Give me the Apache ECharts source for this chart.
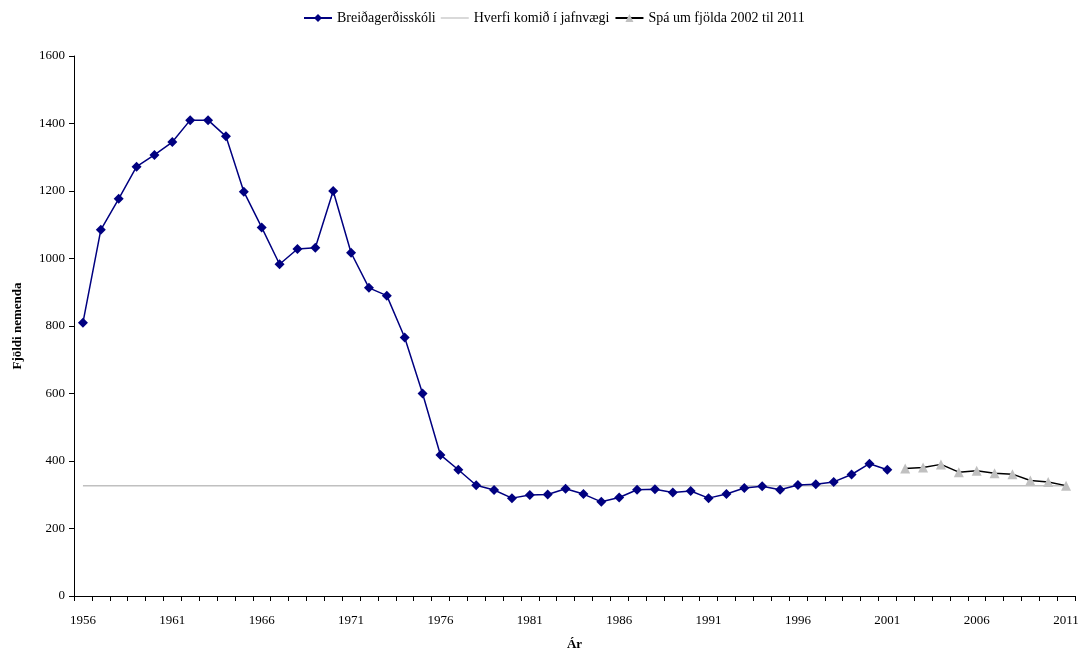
<!DOCTYPE html>
<html><head><meta charset="utf-8">
<script src="https://cdn.jsdelivr.net/npm/echarts@6/dist/echarts.min.js"></script>
<style>html,body{margin:0;padding:0;background:#fff}#c{width:1080px;height:651px}</style>
</head><body><div id="c"></div>
<script>
const years = [];
for (let y = 1956; y <= 2011; y++) years.push(String(y));
const school = [810,1085,1177,1272,1307,1345,1410,1410,1362,1198,1092,983,1028,1032,1200,1017,913,890,766,600,418,374,328,314,290,299,301,318,302,279,292,315,316,307,311,290,302,320,325,315,329,331,338,360,392,374];
const forecastYears = ['2002','2003','2004','2005','2006','2007','2008','2009','2010','2011'];
const forecast = [378,381,390,367,371,364,361,342,338,327];
const equilibrium = 327;
const yTicks = [0,200,400,600,800,1000,1200,1400,1600];

const schoolData = years.map((y,i)=> i < school.length ? school[i] : null);
const forecastData = years.map(y => { const k = forecastYears.indexOf(y); return k >= 0 ? forecast[k] : null; });
const eqData = years.map(()=>equilibrium);

const font = "'Liberation Serif', 'Times New Roman', serif";
const chart = echarts.init(document.getElementById('c'));
chart.setOption({
  animation:false,
  textStyle:{fontFamily:font, color:'#000'},
  legend:{
    top:6, left:298, itemWidth:28, itemHeight:10, itemGap:5,
    textStyle:{fontFamily:font, fontSize:14, color:'#000'},
    data:[
      {name:'Breiðagerðisskóli'},
      {name:'Hverfi komið í jafnvægi', icon:'path://M0,4.4 L28,4.4 L28,5.6 L0,5.6 Z', itemStyle:{color:'#c0c0c0'}},
      {name:'Spá um fjölda 2002 til 2011'}
    ]
  },
  grid:{left:74, right:5, top:56, bottom:55, outerBoundsMode:'none', containLabel:false},
  xAxis:{
    type:'category', data:years, boundaryGap:true,
    name:'Ár', nameLocation:'middle', nameGap:42,
    nameTextStyle:{fontFamily:font, fontSize:13, fontWeight:'bold', color:'#000'},
    axisLine:{lineStyle:{color:'#000', width:1}},
    axisTick:{show:true, interval:0, length:5, lineStyle:{color:'#000'}},
    axisLabel:{interval:4, margin:18, fontFamily:font, fontSize:13, color:'#000'},
    splitLine:{show:false}
  },
  yAxis:{
    type:'value', min:yTicks[0], max:yTicks[yTicks.length-1], interval:200,
    name:'Fjöldi nemenda', nameLocation:'middle', nameGap:50, nameRotate:90,
    nameTextStyle:{fontFamily:font, fontSize:13, fontWeight:'bold', color:'#000'},
    axisLine:{show:true, lineStyle:{color:'#000', width:1}},
    axisTick:{show:true, length:5, lineStyle:{color:'#000'}},
    axisLabel:{margin:9, fontFamily:font, fontSize:13, color:'#000', formatter:v=>String(v)},
    splitLine:{show:false}
  },
  series:[
    {name:'Breiðagerðisskóli', type:'line', data:schoolData, connectNulls:false,
     symbol:'diamond', symbolSize:10, showAllSymbol:true,
     lineStyle:{color:'#000080', width:1.5}, itemStyle:{color:'#000080'}, z:3},
    {name:'Hverfi komið í jafnvægi', type:'line', data:eqData, symbol:'none',
     lineStyle:{color:'#c0c0c0', width:1.5}, itemStyle:{color:'#c0c0c0'}, z:1},
    {name:'Spá um fjölda 2002 til 2011', type:'line', data:forecastData,
     symbol:'triangle', symbolSize:10, showAllSymbol:true,
     lineStyle:{color:'#000', width:1.5}, itemStyle:{color:'#c0c0c0'}, z:2}
  ]
});
</script></body></html>
